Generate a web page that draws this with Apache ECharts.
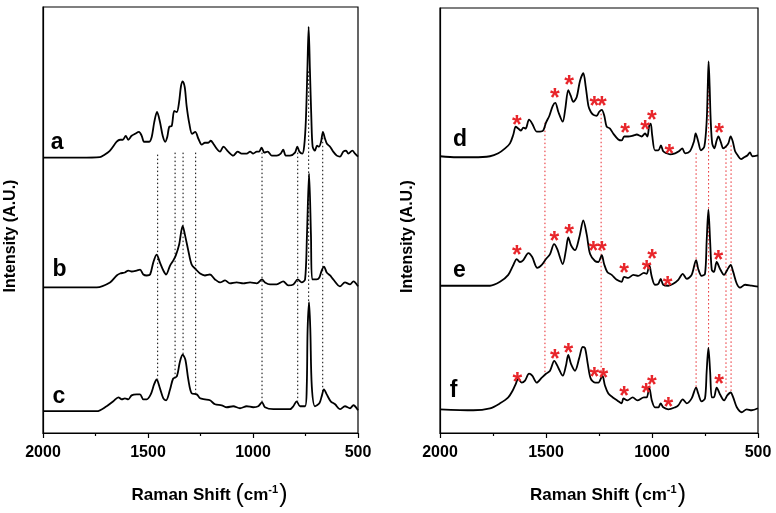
<!DOCTYPE html>
<html>
<head>
<meta charset="utf-8">
<script src="https://cdn.jsdelivr.net/npm/echarts@6/dist/echarts.min.js"></script>
<style>
html,body{margin:0;padding:0;background:#fff;}
#chart{width:776px;height:513px;}
</style>
</head>
<body>
<div id="chart"></div>
<script>
// ---- Data (wavenumber cm-1, stacked intensity A.U.) ----
const specA = [[2000,278],[1824,278],[1729,278.5],[1713,280],[1681,285],[1649,294],[1633,296],[1620,296],[1606,300],[1594,296],[1578,300],[1562,302],[1543,304],[1530,300],[1519,294],[1506,294],[1494,294],[1482,299],[1470,314],[1457,324],[1443,314],[1430,300],[1418,294],[1408,299],[1399,309],[1387,310],[1375,325],[1363,324],[1352,334],[1343,350],[1335,355],[1325,349],[1316,330],[1303,312],[1290,302],[1275,304],[1260,297],[1244,291],[1229,293],[1213,293],[1201,295],[1189,292],[1173,287],[1157,284],[1141,289],[1118,284],[1094,280],[1073,284],[1054,282],[1030,282],[1014,284],[999,282],[982,284],[971,284],[959,288],[946,283],[930,284],[911,280],[887,280],[868,282],[856,286],[844,280],[824,280],[800,283],[789,289],[779,284],[765,282],[756,290],[748,317],[741,367],[735,410],[729,367],[722,317],[716,289],[705,285],[695,290],[686,289],[676,294],[667,304],[657,297],[648,292],[633,289],[618,284],[601,280],[586,279],[570,284],[557,285],[546,282],[527,285],[514,282],[500,279]];
const specB = [[2000,147],[1744,147],[1681,152],[1649,159],[1633,161],[1610,162],[1594,164],[1578,163],[1554,164],[1538,165],[1522,160],[1506,159],[1490,160],[1475,172],[1459,180],[1443,172],[1427,164],[1414,160],[1395,169],[1380,174],[1368,179],[1352,190],[1335,209],[1324,200],[1308,184],[1292,170],[1271,165],[1252,161],[1229,159],[1205,160],[1181,155],[1157,152],[1133,154],[1110,151],[1078,152],[1046,151],[1014,152],[982,151],[957,155],[943,152],[919,150],[887,150],[856,153],[832,149],[808,150],[787,155],[768,152],[752,155],[743,200],[733,262],[724,200],[718,155],[697,155],[684,157],[673,164],[662,168],[649,162],[633,159],[618,155],[586,148],[562,152],[538,150],[522,153],[500,148]];
const specC = [[2000,22],[1744,22],[1697,27],[1665,32],[1641,36],[1625,34],[1610,35],[1594,34],[1578,38],[1554,39],[1538,39],[1522,34],[1506,34],[1487,39],[1471,49],[1459,54],[1443,45],[1427,35],[1414,33],[1395,44],[1380,55],[1363,57],[1348,72],[1335,79],[1322,74],[1308,54],[1292,40],[1268,39],[1252,35],[1229,34],[1205,33],[1181,29],[1149,28],[1125,26],[1094,27],[1062,25],[1030,27],[999,26],[975,27],[957,31],[943,26],[903,24],[856,24],[824,24],[808,27],[792,32],[776,27],[752,27],[744,47],[740,104],[733,132],[727,104],[720,47],[705,27],[684,30],[673,37],[662,44],[649,39],[630,32],[609,29],[586,24],[562,27],[538,25],[522,28],[500,23]];
const specD = [[2000,280],[1921,279],[1843,279],[1764,280],[1725,283],[1693,288],[1670,293],[1654,302],[1643,310],[1631,308],[1618,306],[1607,309],[1596,308],[1580,317],[1565,313],[1544,305],[1528,305],[1513,306],[1500,314],[1484,321],[1468,331],[1456,334],[1442,325],[1421,315],[1409,328],[1395,347],[1383,341],[1371,335],[1355,340],[1340,356],[1324,364],[1313,351],[1300,331],[1289,325],[1277,322],[1261,321],[1249,325],[1237,327],[1225,321],[1214,310],[1198,308],[1183,303],[1159,297],[1143,296],[1131,300],[1112,300],[1088,301],[1072,302],[1049,300],[1033,303],[1022,300],[1013,311],[1006,313],[999,301],[986,286],[970,286],[958,291],[947,285],[931,283],[915,282],[891,283],[873,285],[857,288],[844,283],[821,285],[802,295],[794,303],[782,295],[769,286],[753,290],[742,316],[737,350],[733,376],[728,350],[723,316],[716,293],[706,288],[695,296],[687,300],[675,294],[664,288],[651,290],[640,293],[629,300],[619,295],[608,285],[596,281],[580,277],[565,279],[549,281],[538,284],[527,280],[500,281]];
const specE = [[2000,149],[1764,149],[1717,153],[1678,160],[1654,170],[1638,176],[1623,173],[1607,175],[1583,182],[1565,178],[1541,167],[1520,170],[1500,176],[1481,181],[1462,191],[1447,186],[1421,171],[1406,185],[1395,198],[1382,190],[1363,185],[1343,198],[1324,215],[1308,201],[1292,181],[1269,174],[1253,173],[1237,180],[1226,171],[1211,163],[1190,160],[1166,155],[1143,153],[1132,158],[1112,157],[1088,160],[1065,159],[1038,162],[1025,161],[1013,170],[1001,158],[986,150],[970,151],[959,156],[947,150],[923,149],[900,151],[876,155],[855,161],[836,156],[813,160],[792,175],[782,166],[766,159],[750,161],[742,195],[734,226],[726,195],[718,165],[708,163],[695,173],[679,166],[660,160],[645,165],[629,170],[617,163],[600,151],[585,147],[561,150],[530,149],[500,148]];
const specF = [[2000,24],[1843,23],[1764,25],[1717,30],[1678,36],[1657,43],[1642,50],[1631,55],[1615,51],[1599,53],[1580,60],[1565,58],[1544,51],[1520,56],[1500,60],[1481,63],[1461,73],[1442,66],[1421,58],[1406,68],[1395,79],[1382,70],[1363,63],[1343,76],[1327,87],[1316,86],[1303,70],[1289,55],[1269,51],[1253,51],[1234,58],[1222,48],[1206,40],[1185,36],[1164,33],[1143,30],[1135,35],[1116,33],[1091,36],[1069,33],[1038,36],[1025,36],[1013,46],[1001,33],[986,26],[970,26],[959,30],[947,26],[923,24],[891,26],[876,28],[855,34],[836,30],[813,35],[792,46],[782,40],[766,32],[750,35],[742,63],[734,86],[726,63],[718,36],[708,36],[695,46],[679,39],[660,33],[645,38],[629,41],[617,36],[600,26],[577,21],[553,24],[530,23],[500,25]];

const leftGuideX = [1454,1371,1333,1273,957,787,735,668];
const leftGuideTop = [281,283,283,283,283,283,365,298];
const leftGuideBottom = [54,55,77,40,30,32,130,42];
const rightGuideX = [1505,1240,792,733,651,627];
const rightGuideTop = [314,323,283,350,290,291];
const rightGuideBottom = [60,56,46,78,40,41];

const starsD = [[1638,316],[1458,343],[1391,356],[1272,335],[1236,335],[1127,307],[1032,311],[1001,321],[918,286],[684,307]];
const starsE = [[1638,184],[1461,198],[1391,205],[1277,188],[1237,188],[1131,166],[1025,169],[999,180],[926,153],[687,179]];
const starsF = [[1635,56],[1458,79],[1395,85],[1272,61],[1230,60],[1131,41],[1028,44],[1001,53],[923,30],[683,54]];

const leftLetters = [['a',1933,293],['b',1921,165],['c',1924,37]];
const rightLetters = [['d',1906,297],['e',1908,164],['f',1936,43]];

const xTicks = {min:500, max:2000, interval:500};
const yRange = {min:0, max:430};

// ---- Chart ----
const FONT = '"Liberation Sans", Arial, sans-serif';
const RED = '#e8262b';
const chart = echarts.init(document.getElementById('chart'), null, {renderer:'canvas'});

function xAxis(gi){
  return {
    type:'value', gridIndex:gi, min:xTicks.min, max:xTicks.max, interval:xTicks.interval, inverse:true,
    axisLine:{show:true, onZero:false, lineStyle:{color:'#000', width:1.2}},
    axisTick:{show:true, inside:false, length:5, lineStyle:{color:'#000', width:1.2}},
    minorTick:{show:true, splitNumber:2, length:3, lineStyle:{color:'#000', width:1.2}},
    splitLine:{show:false}, minorSplitLine:{show:false},
    axisLabel:{show:true, margin:12, color:'#000', fontSize:16, fontWeight:'bold', fontFamily:FONT,
      showMinLabel:true, showMaxLabel:true, formatter:(v)=>String(v)},
    name:'{t|Raman Shift }{p|(}{t|cm}{s|-1}{p|)}',
    nameLocation:'middle', nameGap:50,
    nameTextStyle:{
      padding:[0,0,0,18],
      rich:{
        t:{fontSize:17, fontWeight:'bold', color:'#000', fontFamily:FONT},
        p:{fontSize:25, fontWeight:'normal', color:'#000', fontFamily:FONT},
        s:{fontSize:11, fontWeight:'bold', color:'#000', fontFamily:FONT, padding:[0,1,12,0]}
      }
    }
  };
}
function yAxis(gi){
  return {
    type:'value', gridIndex:gi, min:yRange.min, max:yRange.max,
    axisLine:{show:true, lineStyle:{color:'#000', width:1.2}},
    axisTick:{show:false}, axisLabel:{show:false}, splitLine:{show:false},
    name:'Intensity (A.U.)', nameLocation:'middle', nameGap:24, nameRotate:90,
    nameTextStyle:{fontSize:16, fontWeight:'bold', color:'#000', fontFamily:FONT, padding:[0,32,0,0]}
  };
}

const series = [];
function spec(data, gi){
  series.push({type:'line', xAxisIndex:gi, yAxisIndex:gi, data:data, symbol:'none', smooth:0.3,
    lineStyle:{color:'#000', width:1.8}, z:4, silent:true});
}
spec(specA,0); spec(specB,0); spec(specC,0);
spec(specD,1); spec(specE,1); spec(specF,1);

function guides(xs, tops, bottoms, gi, color){
  xs.forEach((x,i)=>{
    series.push({type:'line', xAxisIndex:gi, yAxisIndex:gi, data:[[x,tops[i]],[x,bottoms[i]]], symbol:'none',
      lineStyle:{color:color, width:1, type:[1.5,2.5]}, z:2, silent:true});
  });
}
guides(leftGuideX, leftGuideTop, leftGuideBottom, 0, '#000');
guides(rightGuideX, rightGuideTop, rightGuideBottom, 1, RED);

series.push({type:'scatter', xAxisIndex:1, yAxisIndex:1, data:starsD.concat(starsE, starsF), symbolSize:1,
  itemStyle:{color:'rgba(0,0,0,0)', opacity:1}, z:6, silent:true,
  label:{show:true, formatter:'*', position:'inside', color:RED, opacity:1, fontSize:25, fontWeight:'bold', fontFamily:FONT, offset:[0,5]}});

function letters(list, gi){
  series.push({type:'scatter', xAxisIndex:gi, yAxisIndex:gi, symbolSize:1, itemStyle:{color:'rgba(0,0,0,0)', opacity:1}, z:6, silent:true,
    data:list.map(l=>({name:l[0], value:[l[1],l[2]]})),
    label:{show:true, formatter:'{b}', position:'inside', color:'#000', opacity:1, fontSize:23, fontWeight:'bold', fontFamily:FONT}});
}
letters(leftLetters,0); letters(rightLetters,1);

chart.setOption({
  animation:false,
  backgroundColor:'#fff',
  grid:[
    {left:43, top:7, width:315, height:430, show:true, borderColor:'#000', borderWidth:1.2, backgroundColor:'transparent', containLabel:false},
    {left:440, top:8, width:318, height:430, show:true, borderColor:'#000', borderWidth:1.2, backgroundColor:'transparent', containLabel:false}
  ],
  xAxis:[xAxis(0), xAxis(1)],
  yAxis:[yAxis(0), yAxis(1)],
  series:series
});
</script>
</body>
</html>
